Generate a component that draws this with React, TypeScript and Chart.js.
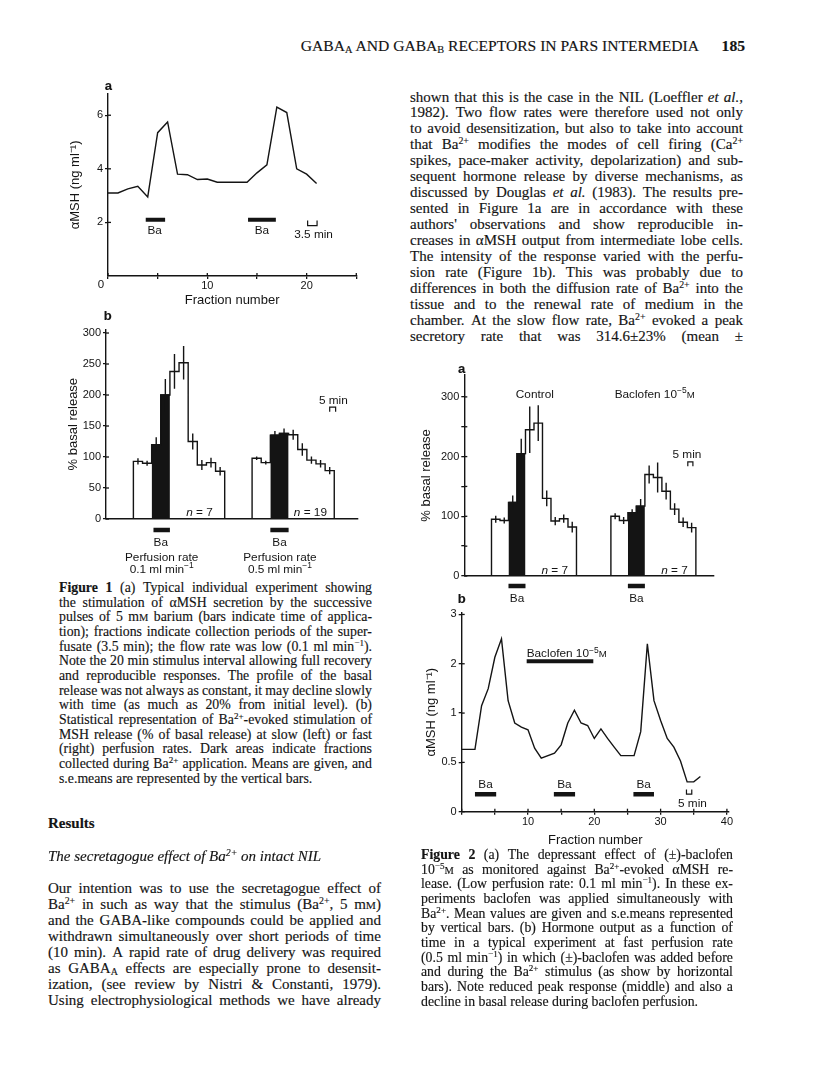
import React, { useEffect, useRef } from "react";
import { Chart, registerables } from "chart.js";

Chart.register(...registerables);

// ================= DATA =================
// Figure 1a – individual experiment, slow perfusion (αMSH, ng/ml per fraction)
const fig1aFraction = [0, 1, 2, 3, 4, 5, 6, 7, 8, 9, 10, 11, 12, 13, 14, 15, 16, 17, 18, 19, 20, 21];
const fig1aMSH = [3.1, 3.1, 3.25, 3.35, 2.95, 5.35, 5.75, 3.8, 3.78, 3.6, 3.62, 3.5, 3.5, 3.5, 3.5, 3.85, 4.15, 6.3, 6.1, 4.0, 3.8, 3.45];
const fig1aBa = [[3.8, 5.75], [14.1, 16.9]];
const fig1aXTicks = [0, 5, 10, 15, 20, 25];
const fig1aXLabels = ["", "", "10", "", "20", ""];
const fig1aYTicks = [2, 4, 6];
const fig1aYLabels = ["2", "4", "6"];

// Figure 1b – % basal release, slow (0.1) and fast (0.5 ml/min) perfusion
const fig1bSlowStart = 3;
const fig1bSlow = [93, 90, 120, 200, 238, 252, 125, 87, 91, 77];
const fig1bSlowSE = [5, 4, 12, 26, 28, 27, 13, 8, 8, 7];
const fig1bFastStart = 16;
const fig1bFast = [98, 91, 135, 138, 136, 112, 95, 89, 78];
const fig1bFastSE = [3, 3, 7, 8, 8, 10, 6, 6, 6];
const fig1bBaIndex = [2, 3];
const fig1bBa = [[5.2, 7.0], [18.0, 20.0]];
const fig1bYTicks = [0, 50, 100, 150, 200, 250, 300];
const fig1bYLabels = ["0", "50", "100", "150", "200", "250", "300"];

// Figure 2a – % basal release, control vs baclofen 10^-5 M
const fig2aControlStart = 3.2;
const fig2aControl = [95, 93, 123, 205, 245, 256, 130, 92, 96, 82];
const fig2aControlSE = [6, 5, 12, 25, 39, 30, 13, 7, 7, 9];
const fig2aBaclofenStart = 17.25;
const fig2aBaclofen = [100, 93, 106, 117, 170, 165, 142, 112, 90, 81];
const fig2aBaclofenSE = [5, 6, 6, 12, 15, 25, 14, 10, 8, 8];
const fig2aBaIndex = [2, 3];
const fig2aBa = [[5.2, 7.2], [19.25, 21.25]];
const fig2aYTicks = [0, 50, 100, 150, 200, 250, 300];
const fig2aYLabels = ["0", "", "100", "", "200", "", "300"];

// Figure 2b – αMSH output, fast perfusion, baclofen before/during Ba
const fig2bFraction = [0, 2, 3, 4, 5, 6, 7, 8, 9, 10, 11, 12, 14, 15, 16, 17, 18, 19, 20, 21, 22, 23, 24, 26, 27, 28, 29, 30, 31, 32, 33, 34, 35, 36];
const fig2bMSH = [0.6, 0.6, 1.11, 1.41, 2.19, 2.84, 1.19, 0.87, 0.82, 0.79, 0.61, 0.53, 0.57, 0.64, 0.87, 1.04, 0.87, 0.84, 0.7, 0.8, 0.7, 0.62, 0.55, 0.55, 0.77, 2.65, 1.19, 0.9, 0.7, 0.62, 0.51, 0.38, 0.38, 0.41];
const fig2bBa = [[2.0, 5.2], [13.9, 17.1], [25.9, 29.0]];
const fig2bBaclofen = [[9.8, 19.85]];
const fig2bXTicks = [0, 5, 10, 15, 20, 25, 30, 35, 40];
const fig2bXLabels = ["", "", "10", "", "20", "", "30", "", "40"];
const fig2bYTicks = [0.25, 0.5, 1, 2, 4];
const fig2bYLabels = ["0", "0.5", "1", "2", "3"];

// ================= STYLE =================
const INK = "#141414";
const SANS = '"Liberation Sans", Arial, Helvetica, sans-serif';
const SERIF = '"Liberation Serif", "Times New Roman", serif';
const TICK_FONT = { family: SANS, size: 11 };
const TITLE_FONT = { family: SANS, size: 13 };

type Part = { t: string; sup?: boolean; small?: boolean; it?: boolean };
type TextItem = { parts: Part[]; x: number; y?: number; dy?: number; align?: string; size?: number };

function drawRich(ctx: any, x: number, y: number, parts: Part[], align: string, size: number) {
  const font = (p: Part) =>
    `${p.it ? "italic " : ""}${p.sup ? size * 0.72 : p.small ? size * 0.82 : size}px ${SANS}`;
  const widths = parts.map((p) => {
    ctx.font = font(p);
    return ctx.measureText(p.t).width;
  });
  const total = widths.reduce((a, b) => a + b, 0);
  let cx = align === "center" ? x - total / 2 : align === "right" ? x - total : x;
  ctx.textAlign = "left";
  ctx.textBaseline = "alphabetic";
  const base = y + size * 0.36;
  parts.forEach((p, i) => {
    ctx.font = font(p);
    ctx.fillText(p.t, cx, p.sup ? base - size * 0.42 : base);
    cx += widths[i];
  });
}

const annotationPlugin = {
  id: "pageAnnotations",
  afterDraw(chart: any, _args: any, opts: any) {
    const ctx = chart.ctx;
    const xs = chart.scales.x;
    const ys = chart.scales.y;
    const area = chart.chartArea;
    ctx.save();
    ctx.strokeStyle = INK;
    ctx.fillStyle = INK;
    ctx.lineWidth = 1.3;
    for (const it of opts.innerTicks || []) {
      const sc = chart.scales[it.axis];
      for (const t of sc.ticks) {
        const p = sc.getPixelForValue(t.value);
        ctx.beginPath();
        if (it.axis === "x") {
          ctx.moveTo(p, area.bottom);
          ctx.lineTo(p, area.bottom - it.len);
        } else {
          ctx.moveTo(area.left, p);
          ctx.lineTo(area.left + it.len, p);
        }
        ctx.stroke();
      }
    }
    for (const tx of (opts.texts || []) as TextItem[]) {
      const px = xs.getPixelForValue(tx.x);
      const py = tx.y !== undefined ? ys.getPixelForValue(tx.y) : area.bottom + (tx.dy || 0);
      drawRich(ctx, px, py, tx.parts, tx.align || "center", tx.size || 11.8);
    }
    ctx.restore();
  },
};

// ---------- dataset builders ----------
function lineDs(data: any[], extra: any = {}) {
  return {
    data,
    borderColor: INK,
    backgroundColor: INK,
    borderWidth: 1.4,
    pointRadius: 0,
    fill: false,
    spanGaps: false,
    tension: 0,
    clip: false,
    ...extra,
  };
}
function stepOutline(start: number, values: number[]) {
  const pts = [{ x: start, y: 0 }];
  values.forEach((v, i) => pts.push({ x: start + i, y: v }));
  pts.push({ x: start + values.length, y: values[values.length - 1] });
  pts.push({ x: start + values.length, y: 0 });
  return pts;
}
function baFill(start: number, values: number[], idx: number[]) {
  const pts = idx.map((i) => ({ x: start + i, y: values[i] }));
  const last = idx[idx.length - 1];
  pts.push({ x: start + last + 1, y: values[last] });
  return pts;
}
function errorBars(start: number, values: number[], se: number[]) {
  const pts: any[] = [];
  values.forEach((v, i) => {
    const c = start + i + 0.5;
    pts.push({ x: c, y: v - se[i] }, { x: c, y: v + se[i] }, { x: c, y: null });
  });
  return pts;
}
function segments(ranges: number[][], y: number) {
  const pts: any[] = [];
  ranges.forEach(([a, b]) => pts.push({ x: a, y }, { x: b, y }, { x: b, y: null }));
  return pts;
}
function bracket(x0: number, x1: number, yOpen: number, yClosed: number) {
  return [
    { x: x0, y: yOpen },
    { x: x0, y: yClosed },
    { x: x1, y: yClosed },
    { x: x1, y: yOpen },
  ];
}

// ---------- axis / frame builders ----------
type Box = { l: number; t: number; w: number; h: number };
type Area = { l: number; t: number; r: number; b: number };

function axis(o: any) {
  return {
    type: o.type || "linear",
    position: o.position,
    min: o.min,
    max: o.max,
    afterBuildTicks: (s: any) => {
      s.ticks = o.ticks.map((v: number) => ({ value: v }));
    },
    ticks: {
      display: o.showLabels !== false,
      callback: (_v: any, i: number) => o.labels[i],
      font: TICK_FONT,
      color: INK,
      padding: o.labelPad ?? 2,
      autoSkip: false,
      maxRotation: 0,
      minRotation: 0,
    },
    grid: {
      display: o.showTicks !== false,
      drawOnChartArea: false,
      drawTicks: true,
      tickLength: 3,
      color: INK,
      lineWidth: 1.3,
    },
    border: { display: true, color: INK, width: 1.4 },
    title: o.title
      ? { display: true, text: o.title, font: TITLE_FONT, color: INK, padding: o.titlePad }
      : { display: false },
  };
}

function makeConfig(box: Box, area: Area, datasets: any[], x: any, y: any, ann: any) {
  const yW = area.l - box.l;
  const xH = box.t + box.h - area.b;
  const pt = area.t - box.t;
  const pr = box.l + box.w - area.r;
  x.afterFit = (s: any) => {
    s.height = xH;
  };
  y.afterFit = (s: any) => {
    s.width = yW;
  };
  return {
    type: "line",
    data: { datasets },
    options: {
      responsive: false,
      animation: false,
      devicePixelRatio: 1,
      events: [],
      layout: { padding: { top: pt, right: pr, left: 0, bottom: 0 } },
      scales: { x, y },
      plugins: {
        legend: { display: false },
        tooltip: { enabled: false },
        pageAnnotations: ann,
      },
    },
    plugins: [annotationPlugin],
  };
}

// ---------- chart frames (page pixels) ----------
const BOX_1A: Box = { l: 50, t: 80, w: 316, h: 232 };
const AREA_1A: Area = { l: 108, t: 93.8, r: 356.3, b: 276 };
const BOX_1B: Box = { l: 45, t: 312, w: 323, h: 268 };
const AREA_1B: Area = { l: 106, t: 329.3, r: 358, b: 519 };
const BOX_2A: Box = { l: 415, t: 360, w: 310, h: 246 };
const AREA_2A: Area = { l: 464.3, t: 374.8, r: 713.3, b: 576 };
const BOX_2B: Box = { l: 415, t: 602, w: 325, h: 250 };
const AREA_2B: Area = { l: 461.7, t: 612.7, r: 728.9, b: 811.7 };

const T = (t: string): Part[] => [{ t }];
const MIN1: Part[] = [{ t: "0.1 ml min" }, { t: "−1", sup: true }];
const MIN5: Part[] = [{ t: "0.5 ml min" }, { t: "−1", sup: true }];
const BACLO: Part[] = [{ t: "Baclofen 10" }, { t: "−5", sup: true }, { t: "M", small: true }];
const NEQ = (n: string): Part[] => [{ t: "n", it: true }, { t: " = " + n }];

function config1a() {
  const ds = [
    lineDs(fig1aFraction.map((x, i) => ({ x, y: fig1aMSH[i] }))),
    lineDs(segments(fig1aBa, 2.1), { borderWidth: 4, borderCapStyle: "butt" }),
    lineDs(bracket(20.1, 21.05, 2.07, 1.88), { borderWidth: 1.2 }),
  ];
  const x = axis({ position: "bottom", min: 0, max: 25, ticks: fig1aXTicks, labels: fig1aXLabels, labelPad: 0, title: "Fraction number", titlePad: { top: 0, bottom: 4.2 } });
  const y = axis({ position: "left", min: 0, max: 6.8, ticks: fig1aYTicks, labels: fig1aYLabels, title: "αMSH (ng ml⁻¹)", titlePad: { top: 17.2, bottom: 0 } });
  return makeConfig(BOX_1A, AREA_1A, ds, x, y, {
    innerTicks: [{ axis: "x", len: 3 }, { axis: "y", len: 3 }],
    texts: [
      { parts: T("Ba"), x: 4.7, y: 1.74 },
      { parts: T("Ba"), x: 15.5, y: 1.74 },
      { parts: T("3.5 min"), x: 20.7, y: 1.57 },
      { parts: T("0"), x: -0.7, y: -0.3, size: 11.5 },
    ],
  });
}

function config1b() {
  const ds = [
    lineDs(errorBars(fig1bSlowStart, fig1bSlow, fig1bSlowSE), { order: 1 }),
    lineDs(errorBars(fig1bFastStart, fig1bFast, fig1bFastSE), { order: 1 }),
    lineDs(stepOutline(fig1bSlowStart, fig1bSlow), { stepped: true, order: 2 }),
    lineDs(stepOutline(fig1bFastStart, fig1bFast), { stepped: true, order: 2 }),
    lineDs(baFill(fig1bSlowStart, fig1bSlow, fig1bBaIndex), { stepped: true, fill: "origin", order: 3 }),
    lineDs(baFill(fig1bFastStart, fig1bFast, fig1bBaIndex), { stepped: true, fill: "origin", order: 3 }),
    lineDs(segments(fig1bBa, -17.7), { borderWidth: 4.5, borderCapStyle: "butt", order: 1 }),
    lineDs(bracket(24.5, 25.15, 173, 180.6), { borderWidth: 1.2, order: 1 }),
  ];
  const x = axis({ position: "bottom", min: 0, max: 27.6, ticks: [0], labels: [""], showLabels: false, showTicks: false });
  const y = axis({ position: "left", min: 0, max: 306, ticks: fig1bYTicks, labels: fig1bYLabels, title: "% basal release", titlePad: { top: 20.5, bottom: 0 } });
  return makeConfig(BOX_1B, AREA_1B, ds, x, y, {
    innerTicks: [{ axis: "y", len: 3 }],
    texts: [
      { parts: T("5 min"), x: 24.9, y: 192 },
      { parts: NEQ("7"), x: 11.7, y: 11, align: "right" },
      { parts: NEQ("19"), x: 24.2, y: 11, align: "right" },
      { parts: T("Ba"), x: 6.0, dy: 22.7 },
      { parts: T("Ba"), x: 19.0, dy: 22.7 },
      { parts: T("Perfusion rate"), x: 6.1, dy: 37.7 },
      { parts: T("Perfusion rate"), x: 19.05, dy: 37.7 },
      { parts: MIN1, x: 6.1, dy: 50 },
      { parts: MIN5, x: 19.05, dy: 50 },
    ],
  });
}

function config2a() {
  const ds = [
    lineDs(errorBars(fig2aControlStart, fig2aControl, fig2aControlSE), { order: 1 }),
    lineDs(errorBars(fig2aBaclofenStart, fig2aBaclofen, fig2aBaclofenSE), { order: 1 }),
    lineDs(stepOutline(fig2aControlStart, fig2aControl), { stepped: true, order: 2 }),
    lineDs(stepOutline(fig2aBaclofenStart, fig2aBaclofen), { stepped: true, order: 2 }),
    lineDs(baFill(fig2aControlStart, fig2aControl, fig2aBaIndex), { stepped: true, fill: "origin", order: 3 }),
    lineDs(baFill(fig2aBaclofenStart, fig2aBaclofen, fig2aBaIndex), { stepped: true, fill: "origin", order: 3 }),
    lineDs(segments(fig2aBa, -16.75), { borderWidth: 4.3, borderCapStyle: "butt", order: 1 }),
    lineDs(bracket(26.3, 26.9, 184, 191), { borderWidth: 1.2, order: 1 }),
  ];
  const x = axis({ position: "bottom", min: 0, max: 29.3, ticks: [0], labels: [""], showLabels: false, showTicks: false });
  const y = axis({ position: "left", min: 0, max: 337, ticks: fig2aYTicks, labels: fig2aYLabels, title: "% basal release", titlePad: { top: 3.9, bottom: 0 } });
  return makeConfig(BOX_2A, AREA_2A, ds, x, y, {
    innerTicks: [{ axis: "y", len: 3 }],
    texts: [
      { parts: T("Control"), x: 8.3, y: 306 },
      { parts: BACLO, x: 22.4, y: 306 },
      { parts: T("5 min"), x: 26.2, y: 204 },
      { parts: NEQ("7"), x: 12.2, y: 10, align: "right" },
      { parts: NEQ("7"), x: 26.3, y: 10, align: "right" },
      { parts: T("Ba"), x: 6.2, dy: 22 },
      { parts: T("Ba"), x: 20.25, dy: 22 },
    ],
  });
}

function config2b() {
  const ds = [
    lineDs(fig2bFraction.map((x, i) => ({ x, y: fig2bMSH[i] }))),
    lineDs(segments(fig2bBa, 0.32), { borderWidth: 4.5, borderCapStyle: "butt" }),
    lineDs(segments(fig2bBaclofen, 2.07), { borderWidth: 4, borderCapStyle: "butt" }),
    lineDs(bracket(33.9, 34.7, 0.342, 0.32), { borderWidth: 1.2 }),
  ];
  const x = axis({ position: "bottom", min: 0, max: 40.3, ticks: fig2bXTicks, labels: fig2bXLabels, labelPad: 1, title: "Fraction number", titlePad: { top: 0, bottom: 4.2 } });
  const y = axis({ type: "logarithmic", position: "left", min: 0.25, max: 4.1, ticks: fig2bYTicks, labels: fig2bYLabels, title: "αMSH (ng ml⁻¹)", titlePad: { top: 8.9, bottom: 0 } });
  return makeConfig(BOX_2B, AREA_2B, ds, x, y, {
    innerTicks: [{ axis: "x", len: 3 }, { axis: "y", len: 3 }],
    texts: [
      { parts: T("Ba"), x: 3.6, y: 0.368 },
      { parts: T("Ba"), x: 15.5, y: 0.368 },
      { parts: T("Ba"), x: 27.45, y: 0.368 },
      { parts: BACLO, x: 9.8, y: 2.32, align: "left" },
      { parts: T("5 min"), x: 34.8, y: 0.282 },
    ],
  });
}

function ChartCanvas({ box, make }: { box: Box; make: () => any }) {
  const ref = useRef<HTMLCanvasElement>(null);
  useEffect(() => {
    const chart = new Chart(ref.current as HTMLCanvasElement, make() as any);
    return () => chart.destroy();
  }, []);
  return (
    <canvas
      ref={ref}
      width={box.w}
      height={box.h}
      style={{ position: "absolute", left: box.l, top: box.t, width: box.w, height: box.h }}
    />
  );
}

// ================= TEXT =================
const headerWords = "GABA_{A} AND GABA_{B} RECEPTORS IN PARS INTERMEDIA";

const rightTop = [
  "shown that this is the case in the NIL (Loeffler *et al.*,",
  "1982). Two flow rates were therefore used not only",
  "to avoid desensitization, but also to take into account",
  "that Ba^{2+} modifies the modes of cell firing (Ca^{2+}",
  "spikes, pace-maker activity, depolarization) and sub-",
  "sequent hormone release by diverse mechanisms, as",
  "discussed by Douglas *et al.* (1983). The results pre-",
  "sented in Figure 1a are in accordance with these",
  "authors' observations and show reproducible in-",
  "creases in αMSH output from intermediate lobe cells.",
  "The intensity of the response varied with the perfu-",
  "sion rate (Figure 1b). This was probably due to",
  "differences in both the diffusion rate of Ba^{2+} into the",
  "tissue and to the renewal rate of medium in the",
  "chamber. At the slow flow rate, Ba^{2+} evoked a peak",
  "secretory rate that was 314.6±23% (mean ±",
];

const caption1 = [
  "#Figure 1#  (a) Typical individual experiment showing",
  "the stimulation of αMSH secretion by the successive",
  "pulses of 5 m&{M} barium (bars indicate time of applica-",
  "tion); fractions indicate collection periods of the super-",
  "fusate (3.5 min); the flow rate was low (0.1 ml min^{−1}).",
  "Note the 20 min stimulus interval allowing full recovery",
  "and reproducible responses. The profile of the basal",
  "release was not always as constant, it may decline slowly",
  "with time (as much as 20% from initial level). (b)",
  "Statistical representation of Ba^{2+}-evoked stimulation of",
  "MSH release (% of basal release) at slow (left) or fast",
  "(right) perfusion rates. Dark areas indicate fractions",
  "collected during Ba^{2+} application. Means are given, and",
  "s.e.means are represented by the vertical bars.",
];

const leftPara = [
  "Our intention was to use the secretagogue effect of",
  "Ba^{2+} in such as way that the stimulus (Ba^{2+}, 5 m&{M})",
  "and the GABA-like compounds could be applied and",
  "withdrawn simultaneously over short periods of time",
  "(10 min). A rapid rate of drug delivery was required",
  "as GABA_{A} effects are especially prone to desensit-",
  "ization, (see review by Nistri & Constanti, 1979).",
  "Using electrophysiological methods we have already",
];

const caption2 = [
  "#Figure 2#  (a) The depressant effect of (±)-baclofen",
  "10^{−5}&{M} as monitored against Ba^{2+}-evoked αMSH re-",
  "lease. (Low perfusion rate: 0.1 ml min^{−1}). In these ex-",
  "periments baclofen was applied simultaneously with",
  "Ba^{2+}. Mean values are given and s.e.means represented",
  "by vertical bars. (b) Hormone output as a function of",
  "time in a typical experiment at fast perfusion rate",
  "(0.5 ml min^{−1}) in which (±)-baclofen was added before",
  "and during the Ba^{2+} stimulus (as show by horizontal",
  "bars). Note reduced peak response (middle) and also a",
  "decline in basal release during baclofen perfusion.",
];

function renderWord(word: string, st: { i: boolean; b: boolean }) {
  const out: React.ReactNode[] = [];
  let buf = "";
  let k = 0;
  const style = () => ({ fontStyle: st.i ? "italic" : undefined, fontWeight: st.b ? "bold" : undefined });
  const flush = () => {
    if (buf) {
      out.push(<span key={k++} style={style()}>{buf}</span>);
      buf = "";
    }
  };
  for (let p = 0; p < word.length; p++) {
    const c = word[p];
    if ((c === "^" || c === "_" || c === "&") && word[p + 1] === "{") {
      const end = word.indexOf("}", p);
      const inner = word.slice(p + 2, end);
      flush();
      if (c === "^")
        out.push(<span key={k++} style={{ ...style(), fontSize: "0.66em", verticalAlign: "0.5em", lineHeight: 0 }}>{inner}</span>);
      else if (c === "_")
        out.push(<span key={k++} style={{ ...style(), fontSize: "0.66em", verticalAlign: "-0.22em", lineHeight: 0 }}>{inner}</span>);
      else out.push(<span key={k++} style={{ ...style(), fontSize: "0.76em" }}>{inner}</span>);
      p = end;
      continue;
    }
    if (c === "*") { flush(); st.i = !st.i; continue; }
    if (c === "#") { flush(); st.b = !st.b; continue; }
    buf += c;
  }
  flush();
  return out;
}

function TextBlock({ left, firstY, width, lh, size, lines, lastJustified = false, style = {} }: any) {
  return (
    <div style={{ position: "absolute", left, top: firstY - lh / 2 - 1.5, width, fontSize: size, lineHeight: lh + "px", ...style }}>
      {lines.map((ln: string, i: number) => {
        const st = { i: false, b: false };
        const words = ln.split(/ +/);
        const justify = i < lines.length - 1 || lastJustified;
        return (
          <div
            key={i}
            style={
              justify
                ? { display: "flex", justifyContent: "space-between", columnGap: 3, whiteSpace: "nowrap", height: lh }
                : { whiteSpace: "nowrap", height: lh }
            }
          >
            {words.map((w, j) => (
              <span key={j}>
                {!justify && j > 0 ? " " : null}
                {renderWord(w, st)}
              </span>
            ))}
          </div>
        );
      })}
    </div>
  );
}

function PanelLetter({ x, y, ch }: { x: number; y: number; ch: string }) {
  return (
    <div style={{ position: "absolute", left: x - 7, top: y - 8, width: 14, textAlign: "center", fontFamily: SANS, fontWeight: "bold", fontSize: 13, lineHeight: "16px" }}>
      {ch}
    </div>
  );
}

export default function App() {
  const hst = { i: false, b: false };
  return (
    <div
      style={{
        position: "absolute",
        left: 0,
        top: 0,
        width: 816,
        height: 1091,
        overflow: "hidden",
        background: "#ffffff",
        color: INK,
        fontFamily: SERIF,
        WebkitTextStroke: "0.15px #141414",
      }}
    >
      {/* running header */}
      <div style={{ position: "absolute", right: 816 - 699, top: 37, fontSize: 15.6, lineHeight: "18px", whiteSpace: "nowrap" }}>
        {headerWords.split(" ").map((w, i) => (
          <span key={i}>{i > 0 ? " " : null}{renderWord(w, hst)}</span>
        ))}
      </div>
      <div style={{ position: "absolute", right: 816 - 745, top: 37, fontSize: 15.6, lineHeight: "18px", fontWeight: "bold" }}>185</div>

      {/* figures */}
      <ChartCanvas box={BOX_1A} make={config1a} />
      <ChartCanvas box={BOX_1B} make={config1b} />
      <ChartCanvas box={BOX_2A} make={config2a} />
      <ChartCanvas box={BOX_2B} make={config2b} />
      <PanelLetter x={108.3} y={86} ch="a" />
      <PanelLetter x={107.7} y={315.5} ch="b" />
      <PanelLetter x={461.7} y={368.5} ch="a" />
      <PanelLetter x={461.7} y={598.5} ch="b" />

      {/* text */}
      <TextBlock left={410} firstY={99} width={333} lh={15.95} size={15} lines={rightTop} lastJustified />
      <TextBlock left={59} firstY={590} width={313} lh={14.65} size={13.8} lines={caption1} />
      <div style={{ position: "absolute", left: 48, top: 824 - 10.5, fontSize: 15, lineHeight: "18px", fontWeight: "bold" }}>Results</div>
      <TextBlock left={48} firstY={857} width={400} lh={18} size={15} lines={["*The secretagogue effect of Ba^{2+} on intact NIL*"]} />
      <TextBlock left={48} firstY={889} width={333} lh={16} size={15} lines={leftPara} lastJustified />
      <TextBlock left={421} firstY={857} width={312} lh={14.66} size={13.8} lines={caption2} />
    </div>
  );
}
